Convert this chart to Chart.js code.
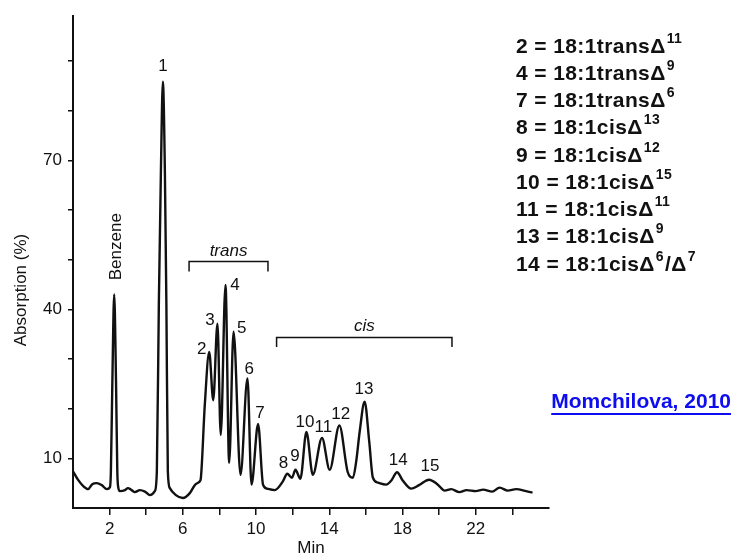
<!DOCTYPE html>
<html>
<head>
<meta charset="utf-8">
<title>GC of 18:1 isomers</title>
<script src="https://cdn.jsdelivr.net/npm/chart.js@4.4.1/dist/chart.umd.min.js"></script>
<style>
  html, body { margin: 0; padding: 0; background: #fff; }
  #wrap { width: 733px; height: 556px; }
</style>
</head>
<body>
<div id="wrap"><canvas id="gcCanvas" width="733" height="556"></canvas></div>
<script>
// Retention time (min) and absorption (%)
const times = [
  0.0, 0.29, 0.56, 0.82, 1.05, 1.3, 1.57, 1.85, 2.02, 2.07, 2.15, 2.25, 2.35, 2.42, 2.48,
  2.56, 2.84, 3.0, 3.2, 3.38, 3.65, 3.93, 4.2, 4.47, 4.58, 4.69, 4.8, 4.91, 5.02, 5.1,
  5.18, 5.29, 5.62, 6.0, 6.38, 6.65, 6.93, 6.98, 7.2, 7.44, 7.66, 7.89, 8.07, 8.33, 8.53,
  8.77, 9.15, 9.53, 9.75, 10.11, 10.38, 10.6, 11.02, 11.47, 11.7, 11.96, 12.15, 12.42, 12.75,
  13.1, 13.6, 14.02, 14.55, 15.0, 15.29, 15.47, 15.66, 15.93, 16.18, 16.38, 16.66, 17.1,
  17.4, 17.7, 18.0, 18.47, 18.9, 19.45, 19.9, 20.3, 20.66, 21.1, 21.5, 22.0, 22.4, 22.9,
  23.3, 23.75, 24.2, 24.75, 25.1
];
const absorption = [
  7.4, 5.6, 4.4, 3.8, 4.8, 5.0, 4.6, 3.8, 4.2, 7.4, 25.4, 43.0, 25.4, 7.4, 4.0,
  3.4, 3.6, 4.0, 3.6, 3.2, 3.6, 3.3, 2.6, 3.4, 7.4, 41.4, 67.4, 85.8, 67.4, 41.4,
  7.4, 4.0, 2.6, 2.0, 3.0, 4.6, 5.4, 5.9, 20.8, 31.4, 21.7, 37.1, 14.7, 44.9, 9.1,
  35.5, 6.7, 26.1, 4.7, 16.9, 4.7, 3.9, 3.6, 5.4, 6.9, 6.1, 7.7, 5.9, 15.3,
  6.7, 14.1, 7.7, 16.6, 7.3, 6.1, 9.4, 15.4, 21.4, 13.4, 6.1, 5.1, 4.7,
  5.6, 7.2, 5.6, 3.9, 4.6, 5.7, 4.8, 3.5, 3.8, 3.2, 3.6, 3.4, 3.7, 3.3,
  4.1, 3.5, 3.8, 3.4, 3.1
];

// axis ticks
const xTicks = [2, 4, 6, 8, 10, 12, 14, 16, 18, 20, 22, 24];
const xTickLabels = [2, 6, 10, 14, 18, 22];
const yTicks = [10, 20, 30, 40, 50, 60, 70, 80, 90];
const yTickLabels = [10, 40, 70];

// peak numbers and where they sit (min, %)
const peakLabels = ['1', '2', '3', '4', '5', '6', '7', '8', '9', '10', '11', '12', '13', '14', '15'];
const peakLabelTimes = [4.91, 7.03, 7.48, 8.85, 9.21, 9.63, 10.21, 11.49, 12.12, 12.67, 13.67, 14.62, 15.89, 17.77, 19.5];
const peakLabelLevels = [89.0, 31.9, 37.7, 44.9, 36.1, 27.9, 19.1, 8.9, 10.4, 17.3, 16.3, 18.8, 23.9, 9.6, 8.3];

// isomer key on the right (text, superscript pairs)
const keyLines = [
  [['2 = 18:1trans\u0394', '11']],
  [['4 = 18:1trans\u0394', '9']],
  [['7 = 18:1trans\u0394', '6']],
  [['8 = 18:1cis\u0394', '13']],
  [['9 = 18:1cis\u0394', '12']],
  [['10 = 18:1cis\u0394', '15']],
  [['11 = 18:1cis\u0394', '11']],
  [['13 = 18:1cis\u0394', '9']],
  [['14 = 18:1cis\u0394', '6'], ['/\u0394', '7']]
];

const ink = '#111';
const family = '"Liberation Sans", Arial, Helvetica, sans-serif';

// Bracket groups: trans and cis
const brackets = [
  { text: 'trans', from: 6.34, to: 10.65, level: 49.6, drop: 2.0, textLevel: 51.6 },
  { text: 'cis', from: 11.12, to: 20.7, level: 34.3, drop: 1.9, textLevel: 36.6 }
];

const overlay = {
  id: 'overlay',
  afterDraw(chart) {
    const { ctx, chartArea } = chart;
    const x = chart.scales.x;
    const y = chart.scales.y;
    ctx.save();
    ctx.fillStyle = ink;
    ctx.strokeStyle = ink;
    ctx.textAlign = 'center';
    ctx.textBaseline = 'middle';
    ctx.font = '17px ' + family;

    // peak numbers
    peakLabels.forEach((t, i) => {
      ctx.fillText(t, x.getPixelForValue(peakLabelTimes[i]), y.getPixelForValue(peakLabelLevels[i]));
    });

    // Benzene, rotated
    ctx.save();
    ctx.translate(x.getPixelForValue(2.39), y.getPixelForValue(52.6));
    ctx.rotate(-Math.PI / 2);
    ctx.fillText('Benzene', 0, 0);
    ctx.restore();

    // brackets
    ctx.lineWidth = 1.5;
    brackets.forEach(b => {
      const x0 = x.getPixelForValue(b.from);
      const x1 = x.getPixelForValue(b.to);
      const yb = y.getPixelForValue(b.level);
      const yd = y.getPixelForValue(b.level - b.drop);
      ctx.beginPath();
      ctx.moveTo(x0, yd);
      ctx.lineTo(x0, yb);
      ctx.lineTo(x1, yb);
      ctx.lineTo(x1, yd);
      ctx.stroke();
      ctx.font = 'italic 17px ' + family;
      ctx.fillText(b.text, (x0 + x1) / 2, y.getPixelForValue(b.textLevel));
    });

    // axis titles
    ctx.font = '17px ' + family;
    ctx.fillText('Min', (chartArea.left + chartArea.right) / 2, 548);
    ctx.save();
    ctx.translate(21, 290);
    ctx.rotate(-Math.PI / 2);
    ctx.fillText('Absorption (%)', 0, 0);
    ctx.restore();

    // key
    ctx.textAlign = 'left';
    ctx.textBaseline = 'alphabetic';
    ctx.letterSpacing = '0.4px';
    keyLines.forEach((parts, i) => {
      let cx = 516;
      const base = 52.7 + i * 27.25;
      parts.forEach(([main, sup]) => {
        ctx.font = 'bold 21px ' + family;
        ctx.fillText(main, cx, base);
        cx += ctx.measureText(main).width + 1;
        ctx.font = 'bold 14px ' + family;
        ctx.fillText(sup, cx, base - 10);
        cx += ctx.measureText(sup).width + 1;
      });
    });
    ctx.letterSpacing = '0px';

    // source link
    ctx.fillStyle = '#0d0df0';
    ctx.strokeStyle = '#0d0df0';
    ctx.font = 'bold 21px ' + family;
    ctx.textAlign = 'right';
    const src = 'Momchilova, 2010';
    ctx.fillText(src, 731, 408.3);
    const w = ctx.measureText(src).width;
    ctx.lineWidth = 2;
    ctx.beginPath();
    ctx.moveTo(731 - w, 414);
    ctx.lineTo(731, 414);
    ctx.stroke();

    ctx.restore();
  }
};

const tickFont = { family: family, size: 17 };

new Chart(document.getElementById('gcCanvas'), {
  type: 'line',
  data: {
    datasets: [{
      data: times.map((t, i) => ({ x: t, y: absorption[i] })),
      borderColor: ink,
      borderWidth: 2.4,
      pointRadius: 0,
      cubicInterpolationMode: 'monotone',
      fill: false
    }]
  },
  options: {
    responsive: false,
    animation: false,
    devicePixelRatio: 1,
    layout: { padding: { top: 13, right: 184, left: 0, bottom: 0 } },
    plugins: { legend: { display: false }, tooltip: { enabled: false } },
    scales: {
      x: {
        type: 'linear',
        min: 0,
        max: 26,
        afterBuildTicks(scale) { scale.ticks = xTicks.map(v => ({ value: v })); },
        afterFit(scale) { scale.height = 48; },
        ticks: {
          autoSkip: false,
          maxRotation: 0,
          padding: 4,
          color: ink,
          font: tickFont,
          callback: v => (xTickLabels.includes(v) ? String(v) : '')
        },
        grid: { drawOnChartArea: false, tickLength: 7, color: ink, lineWidth: 1.5 },
        border: { color: ink, width: 2 }
      },
      y: {
        min: 0,
        max: 99,
        afterBuildTicks(scale) { scale.ticks = yTicks.map(v => ({ value: v })); },
        afterFit(scale) { scale.width = 73; },
        ticks: {
          padding: 6,
          color: ink,
          font: tickFont,
          callback: v => (yTickLabels.includes(v) ? String(v) : '')
        },
        grid: { drawOnChartArea: false, tickLength: 5, color: ink, lineWidth: 1.5 },
        border: { color: ink, width: 2 }
      }
    }
  },
  plugins: [overlay]
});
</script>
</body>
</html>
